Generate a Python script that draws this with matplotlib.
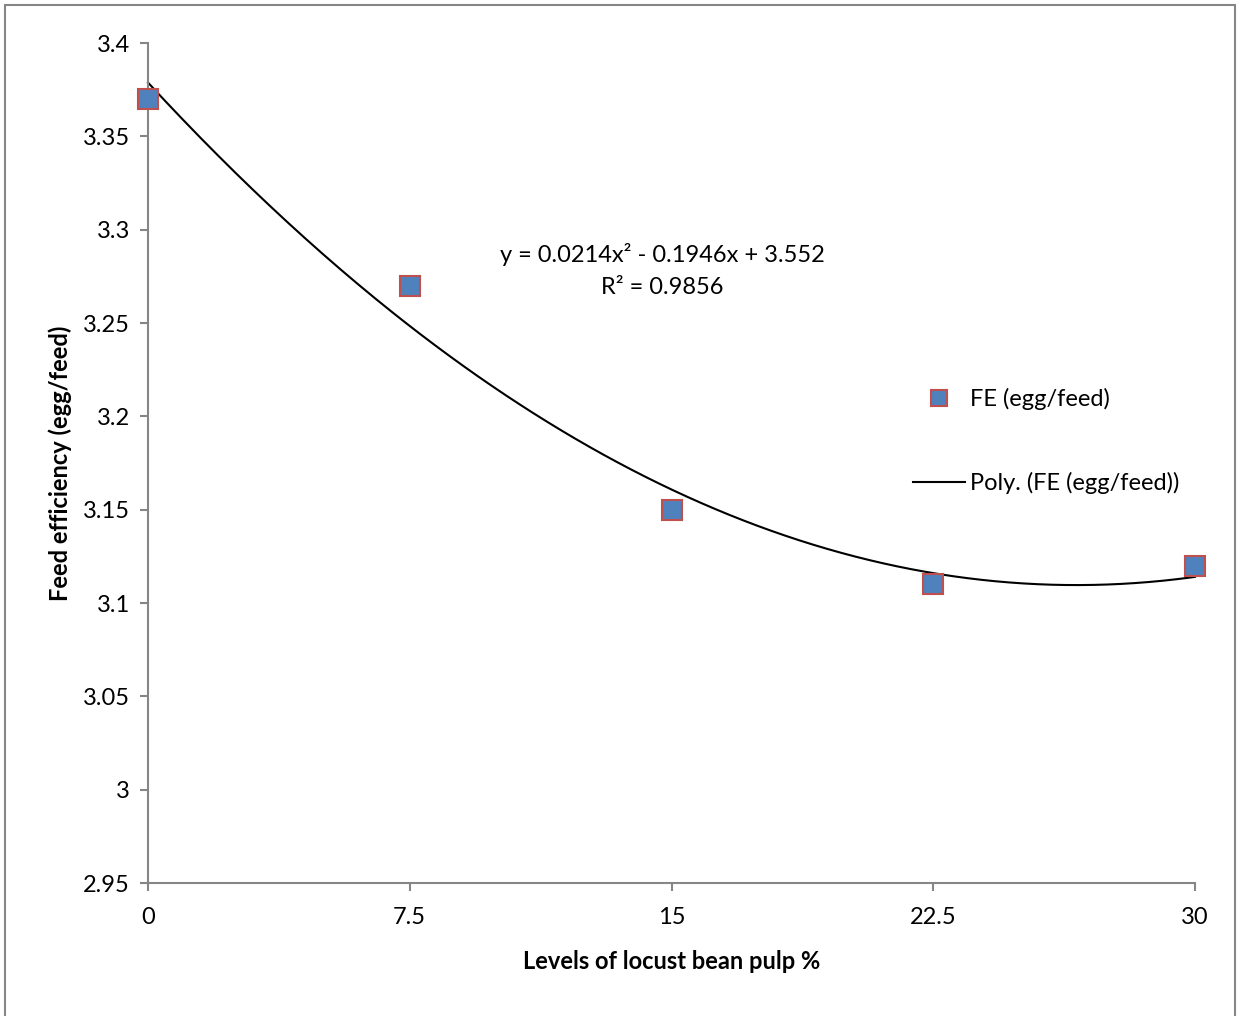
import matplotlib.pyplot as plt
import numpy as np
from matplotlib.patches import Rectangle
from matplotlib.lines import Line2D

plt.rcParams['font.family'] = ['Lato', 'DejaVu Sans']

# data
levels = [0, 7.5, 15, 22.5, 30]
fe = [3.37, 3.27, 3.15, 3.11, 3.12]
# excel trendline coefficients (x = category index 1..5)
poly_coef = [0.0214, -0.1946, 3.552]
r_squared = 0.9856
yticks = [2.95, 3.0, 3.05, 3.1, 3.15, 3.2, 3.25, 3.3, 3.35, 3.4]
ytick_labels = ['2.95', '3', '3.05', '3.1', '3.15', '3.2', '3.25', '3.3', '3.35', '3.4']
xtick_labels = ['0', '7.5', '15', '22.5', '30']

W, H = 1237, 1016
fig = plt.figure(figsize=(W / 100, H / 100), dpi=100)
ax = fig.add_axes([148 / W, 1 - 883 / H, (1195 - 148) / W, (883 - 43) / H])

# trendline over the category axis
xs = np.linspace(levels[0], levels[-1], 300)
t = xs / (levels[1] - levels[0]) + 1
ax.plot(xs, np.polyval(poly_coef, t), color='black', lw=1.5, zorder=2, clip_on=False)

ax.plot(levels, fe, ls='none', marker='s', markersize=15, markerfacecolor='#4F81BD',
        markeredgecolor='#C0504D', markeredgewidth=1.5, zorder=3, clip_on=False)

ax.set_xlim(0, 30)
ax.set_ylim(2.95, 3.4)
ax.set_xticks(levels)
ax.set_xticklabels(xtick_labels)
ax.set_yticks(yticks)
ax.set_yticklabels(ytick_labels)

for s in ['top', 'right']:
    ax.spines[s].set_visible(False)
for s in ['left', 'bottom']:
    ax.spines[s].set_color('#868686')
    ax.spines[s].set_linewidth(1.5)
ax.tick_params(axis='both', colors='#868686', labelcolor='black', labelsize=17,
               length=6, width=1.5)
ax.tick_params(axis='y', pad=7)
ax.tick_params(axis='x', pad=11)

ax.set_xlabel('Levels of locust bean pulp %', fontsize=17, fontweight='bold', labelpad=16)
ax.set_ylabel('Feed efficiency (egg/feed)', fontsize=17, fontweight='bold', labelpad=8)

fig.text(662 / W, 1 - 255 / H, 'y = 0.0214x² - 0.1946x + 3.552', ha='center', va='center', fontsize=17)
fig.text(662 / W, 1 - 288 / H, f'R² = {r_squared}', ha='center', va='center', fontsize=17)

handles = [
    Line2D([], [], ls='none', marker='s', markersize=11, markerfacecolor='#4F81BD',
           markeredgecolor='#C0504D', markeredgewidth=1.5),
    Line2D([], [], color='black', lw=1.5),
]
fig.legend(handles, ['FE (egg/feed)', 'Poly. (FE (egg/feed))'], loc='upper left',
           bbox_to_anchor=(892 / W, 1 - 367 / H), frameon=False, fontsize=17,
           labelspacing=2.6, handlelength=2.2, handletextpad=0.2)

fig.patches.append(Rectangle((5 / W, -0.01), (1235 - 5) / W, 1.01 - 5 / H,
                             transform=fig.transFigure, fill=False,
                             edgecolor='#868686', lw=1.5))

fig.savefig('out.png', dpi=100)
